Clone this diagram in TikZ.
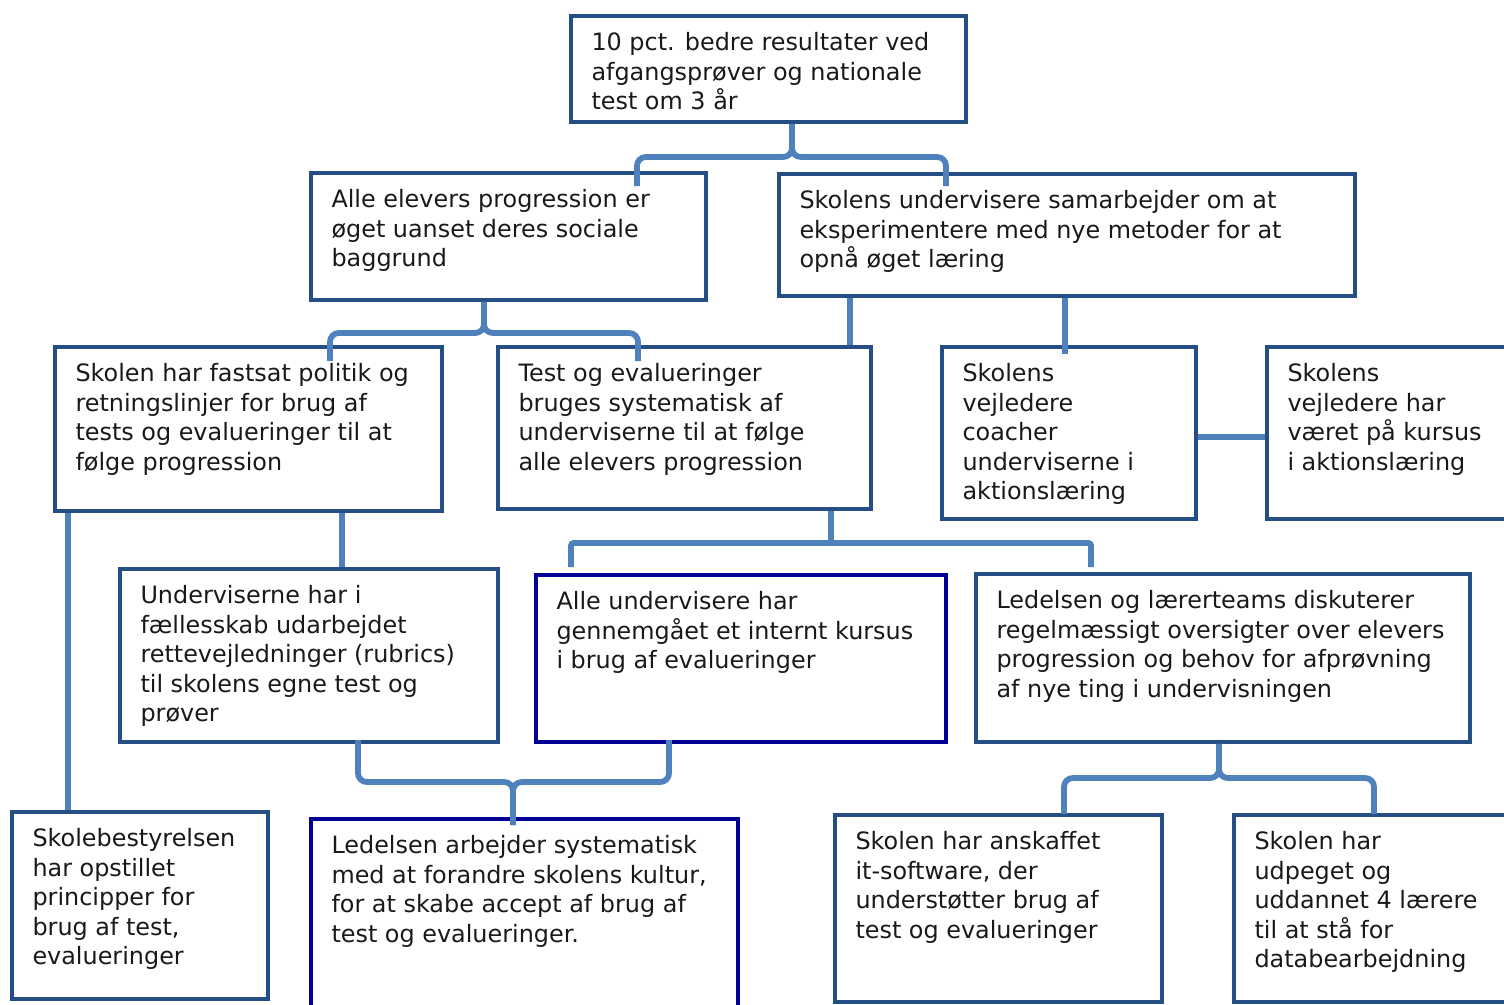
\documentclass[tikz,border=0pt]{standalone}
\usepackage{fontspec}
\setmainfont{DejaVu Sans}
\usepackage{xcolor}
\usepackage{tikz}
\usetikzlibrary{fit}
\definecolor{boxblue}{HTML}{254E84}
\definecolor{boxnavy}{HTML}{000094}
\definecolor{linkblue}{HTML}{4F81BD}

\begin{document}
\begin{tikzpicture}[x=0.02cm,y=-0.02cm]
            \tikzstyle{box}=[draw=boxblue, line width=2.1pt, inner sep=0pt]
            \tikzstyle{navybox}=[box, draw=boxnavy]
            \tikzstyle{txt}=[anchor=north west, align=left, inner sep=0pt, text=black!90, font=\fontsize{13.6}{16.8}\selectfont]
            \tikzstyle{link}=[draw=linkblue, line width=3.3pt, rounded corners=5pt]
            \useasboundingbox (0,0) rectangle (1504,1004);
            \clip (0,0) rectangle (1504,1004);

            \node[box, fit={(571,16) (966,122)}] (goal) {};
            \node[txt] (goaltxt) at ([shift={(22,18)}]goal.north west) {10 pct. bedre resultater ved\\afgangsprøver og nationale\\test om 3 år};

            \node[box, fit={(311,173) (706,300)}] (progress) {};
            \node[txt] (progresstxt) at ([shift={(22,18)}]progress.north west) {Alle elevers progression er\\øget uanset deres sociale\\baggrund};
            \node[box, fit={(779,174) (1355,296)}] (team) {};
            \node[txt] (teamtxt) at ([shift={(22,18)}]team.north west) {Skolens undervisere samarbejder om at\\eksperimentere med nye metoder for at\\opnå øget læring};

            \node[box, fit={(55,347) (442,511)}] (policy) {};
            \node[txt] (policytxt) at ([shift={(22,18)}]policy.north west) {Skolen har fastsat politik og\\retningslinjer for brug af\\tests og evalueringer til at\\følge progression};
            \node[box, fit={(498,347) (871,509)}] (tests) {};
            \node[txt] (teststxt) at ([shift={(22,18)}]tests.north west) {Test og evalueringer\\bruges systematisk af\\underviserne til at følge\\alle elevers progression};
            \node[box, fit={(942,347) (1196,519)}] (coach) {};
            \node[txt] (coachtxt) at ([shift={(22,18)}]coach.north west) {Skolens\\vejledere\\coacher\\underviserne i\\aktionslæring};
            \node[box, fit={(1267,347) (1530,519)}] (course) {};
            \node[txt] (coursetxt) at ([shift={(22,18)}]course.north west) {Skolens\\vejledere har\\været på kursus\\i aktionslæring};

            \node[box, fit={(120,569) (498,742)}] (rubric) {};
            \node[txt] (rubrictxt) at ([shift={(22,18)}]rubric.north west) {Underviserne har i\\fællesskab udarbejdet\\rettevejledninger (rubrics)\\til skolens egne test og\\prøver};
            \node[navybox, fit={(536,575) (946,742)}] (intern) {};
            \node[txt] (interntxt) at ([shift={(22,18)}]intern.north west) {Alle undervisere har\\gennemgået et internt kursus\\i brug af evalueringer};
            \node[box, fit={(976,574) (1470,742)}] (lead) {};
            \node[txt] (leadtxt) at ([shift={(22,18)}]lead.north west) {Ledelsen og lærerteams diskuterer\\regelmæssigt oversigter over elevers\\progression og behov for afprøvning\\af nye ting i undervisningen};

            \node[box, fit={(12,812) (268,999)}] (board) {};
            \node[txt] (boardtxt) at ([shift={(22,18)}]board.north west) {Skolebestyrelsen\\har opstillet\\principper for\\brug af test,\\evalueringer};
            \node[navybox, fit={(311,819) (738,1040)}] (culture) {};
            \node[txt] (culturetxt) at ([shift={(22,18)}]culture.north west) {Ledelsen arbejder systematisk\\med at forandre skolens kultur,\\for at skabe accept af brug af\\test og evalueringer.};
            \node[box, fit={(835,815) (1162,1002)}] (software) {};
            \node[txt] (softwaretxt) at ([shift={(22,18)}]software.north west) {Skolen har anskaffet\\it-software, der\\understøtter brug af\\test og evalueringer};
            \node[box, fit={(1234,815) (1530,1002)}] (data) {};
            \node[txt] (datatxt) at ([shift={(22,18)}]data.north west) {Skolen har\\udpeget og\\uddannet 4 lærere\\til at stå for\\databearbejdning};

            % braces
            \coordinate (b1l) at (637,186);
            \coordinate (b1r) at (946,186);
            \coordinate (b1m) at (792,157);
            \draw[link] (b1l) |- (b1m) -- (goal.south -| b1m);
            \draw[link] (b1r) |- (b1m) -- (goal.south -| b1m);

            \coordinate (b2l) at (330,361);
            \coordinate (b2r) at (638,361);
            \coordinate (b2m) at (484,333);
            \draw[link] (b2l) |- (b2m) -- (progress.south -| b2m);
            \draw[link] (b2r) |- (b2m) -- (progress.south -| b2m);

            \coordinate (b3l) at (571,567);
            \coordinate (b3r) at (1091,567);
            \coordinate (b3m) at (831,543);
            \draw[link, rounded corners=1.5pt] (b3l) |- (b3m) -| (b3r);
            \draw[link] (b3m) -- (tests.south -| b3m);

            \coordinate (b4l) at (358,740);
            \coordinate (b4r) at (669,740);
            \coordinate (b4m) at (513,782);
            \coordinate (b4t) at (513,825);
            \draw[link] (b4l) |- (b4m) -- (b4t);
            \draw[link] (b4r) |- (b4m) -- (b4t);

            \coordinate (b5l) at (1064,814);
            \coordinate (b5r) at (1374,814);
            \coordinate (b5m) at (1219,778);
            \draw[link] (b5l) |- (b5m) -- (lead.south -| b5m);
            \draw[link] (b5r) |- (b5m) -- (lead.south -| b5m);

            % straight links
            \coordinate (c1) at (850,0);
            \coordinate (c2) at (1065,0);
            \coordinate (c3) at (0,437);
            \coordinate (c4) at (342,0);
            \coordinate (c5) at (68,0);
            \draw[link] (team.south -| c1) -- (tests.north -| c1);
            \draw[link] (team.south -| c2) -- ([yshift=-5]coach.north -| c2);
            \draw[link] (coach.east |- c3) -- (course.west |- c3);
            \draw[link] (policy.south -| c4) -- (rubric.north -| c4);
            \draw[link] (policy.south -| c5) -- (board.north -| c5);
\end{tikzpicture}
\end{document}
